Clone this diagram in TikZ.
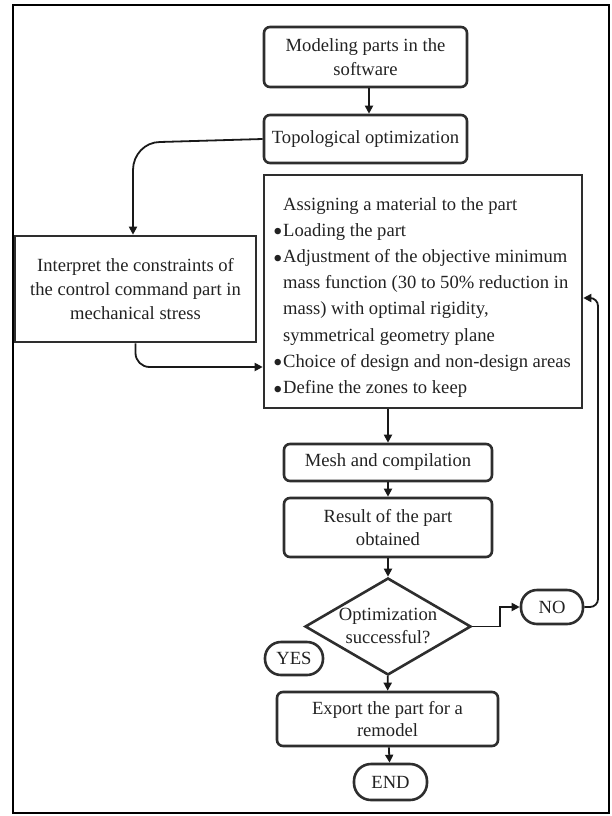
\documentclass[tikz,border=0pt]{standalone}
\usepackage{fontspec}
\setmainfont{Liberation Serif}
\usetikzlibrary{arrows.meta,shapes.geometric,calc}
\definecolor{edge}{HTML}{2E2E2E}
\definecolor{ink}{HTML}{222222}
\newcommand{\blt}{\makebox[10pt][l]{\fontsize{27}{27}\selectfont\raisebox{-4.5pt}{•}}}
\begin{document}
\begin{tikzpicture}[x=1pt,y=-1pt,
  font=\fontsize{18.6}{24}\selectfont,
  box/.style={draw=edge,line width=2.6pt,rounded corners=6pt,align=center,inner sep=0pt,text=ink},
  sbox/.style={draw=edge,line width=2.6pt,align=center,inner sep=0pt,text=ink},
  pill/.style={draw=edge,line width=2.6pt,rounded corners=16pt,inner sep=0pt,text=ink},
  dia/.style={draw=edge,line width=2.6pt,diamond,inner sep=0pt},
  arr/.style={draw=black!90,line width=1.8pt,-{Triangle[length=8pt,width=8pt]}}]
\useasboundingbox (0,0) rectangle (611,816);
\draw[line width=2pt,black] (13,5) rectangle (609,813);

\node[box,minimum width=203pt,minimum height=60pt] (b1) at (365.5,57) {Modeling parts in the\\software};
\node[box,minimum width=203pt,minimum height=48pt] (b2) at (365.5,139) {Topological optimization};
\node[sbox,minimum width=318pt,minimum height=233pt] (b3) at (423,291.5) {};
\node[anchor=north west,align=left,inner sep=0pt,text=ink,font=\fontsize{18.6}{26.2}\selectfont] (b3t) at (273,197)
 {\hspace*{10pt}Assigning a material to the part\\
  \blt Loading the part\\
  \blt Adjustment of the objective minimum\\
  \hspace*{10pt}mass function (30 to 50\% reduction in\\
  \hspace*{10pt}mass) with optimal rigidity,\\
  \hspace*{10pt}symmetrical geometry plane\\
  \blt Choice of design and non-design areas\\
  \blt Define the zones to keep};
\node[sbox,minimum width=241pt,minimum height=106pt] (b4) at (135.5,289) {Interpret the constraints of\\the control command part in\\mechanical stress};
\node[box,minimum width=208pt,minimum height=37pt] (mesh) at (388,462.5) {Mesh and compilation};
\node[box,minimum width=208pt,minimum height=59pt,font=\fontsize{18.6}{23}\selectfont] (res) at (388,527.5) {Result of the part\\obtained};
\node[dia,minimum width=166pt,minimum height=97pt] (dec) at (388,626.5) {};
\node[align=center,inner sep=0pt,text=ink,font=\fontsize{18.6}{23}\selectfont] (dect) at (388,625.5) {Optimization\\successful?};
\node[pill,minimum width=62pt,minimum height=34pt] (no) at (552,607) {NO};
\node[pill,minimum width=58pt,minimum height=33pt] (yes) at (294,658.5) {YES};
\node[box,minimum width=221pt,minimum height=54pt,font=\fontsize{18.6}{21.5}\selectfont] (exp) at (387.5,719) {Export the part for a\\remodel};
\node[pill,minimum width=73pt,minimum height=36pt,rounded corners=17pt] (end) at (390.5,782) {END};

\coordinate (h1) at (0,367);
\coordinate (h2) at (0,298);
\coordinate (k) at (500,607);
\coordinate (r) at (598,0);
\coordinate (c1) at (160,142);
\coordinate (c2) at (133,170);

\draw[arr] (b1.south -| 369,0) -- (b2.north -| 369,0);
\draw[arr] (b2.west) -- (c1) to[out=180,in=90] (c2) -- (b4.north -| c2);
\draw[arr,rounded corners=14pt] (b4.south) |- (b3.west |- h1);
\draw[arr] (mesh.north |- b3.south) -- (mesh.north);
\draw[arr] (mesh) -- (res);
\draw[arr] (res) -- (dec);
\draw[arr] (dec) -- (exp);
\draw[arr] (exp) -- (end);
\draw[arr] (dec.east) -| (k) -- (no.west);
\draw[arr,rounded corners=8pt] (no.east) -| (r |- h2) -- (b3.east |- h2);
\end{tikzpicture}
\end{document}
